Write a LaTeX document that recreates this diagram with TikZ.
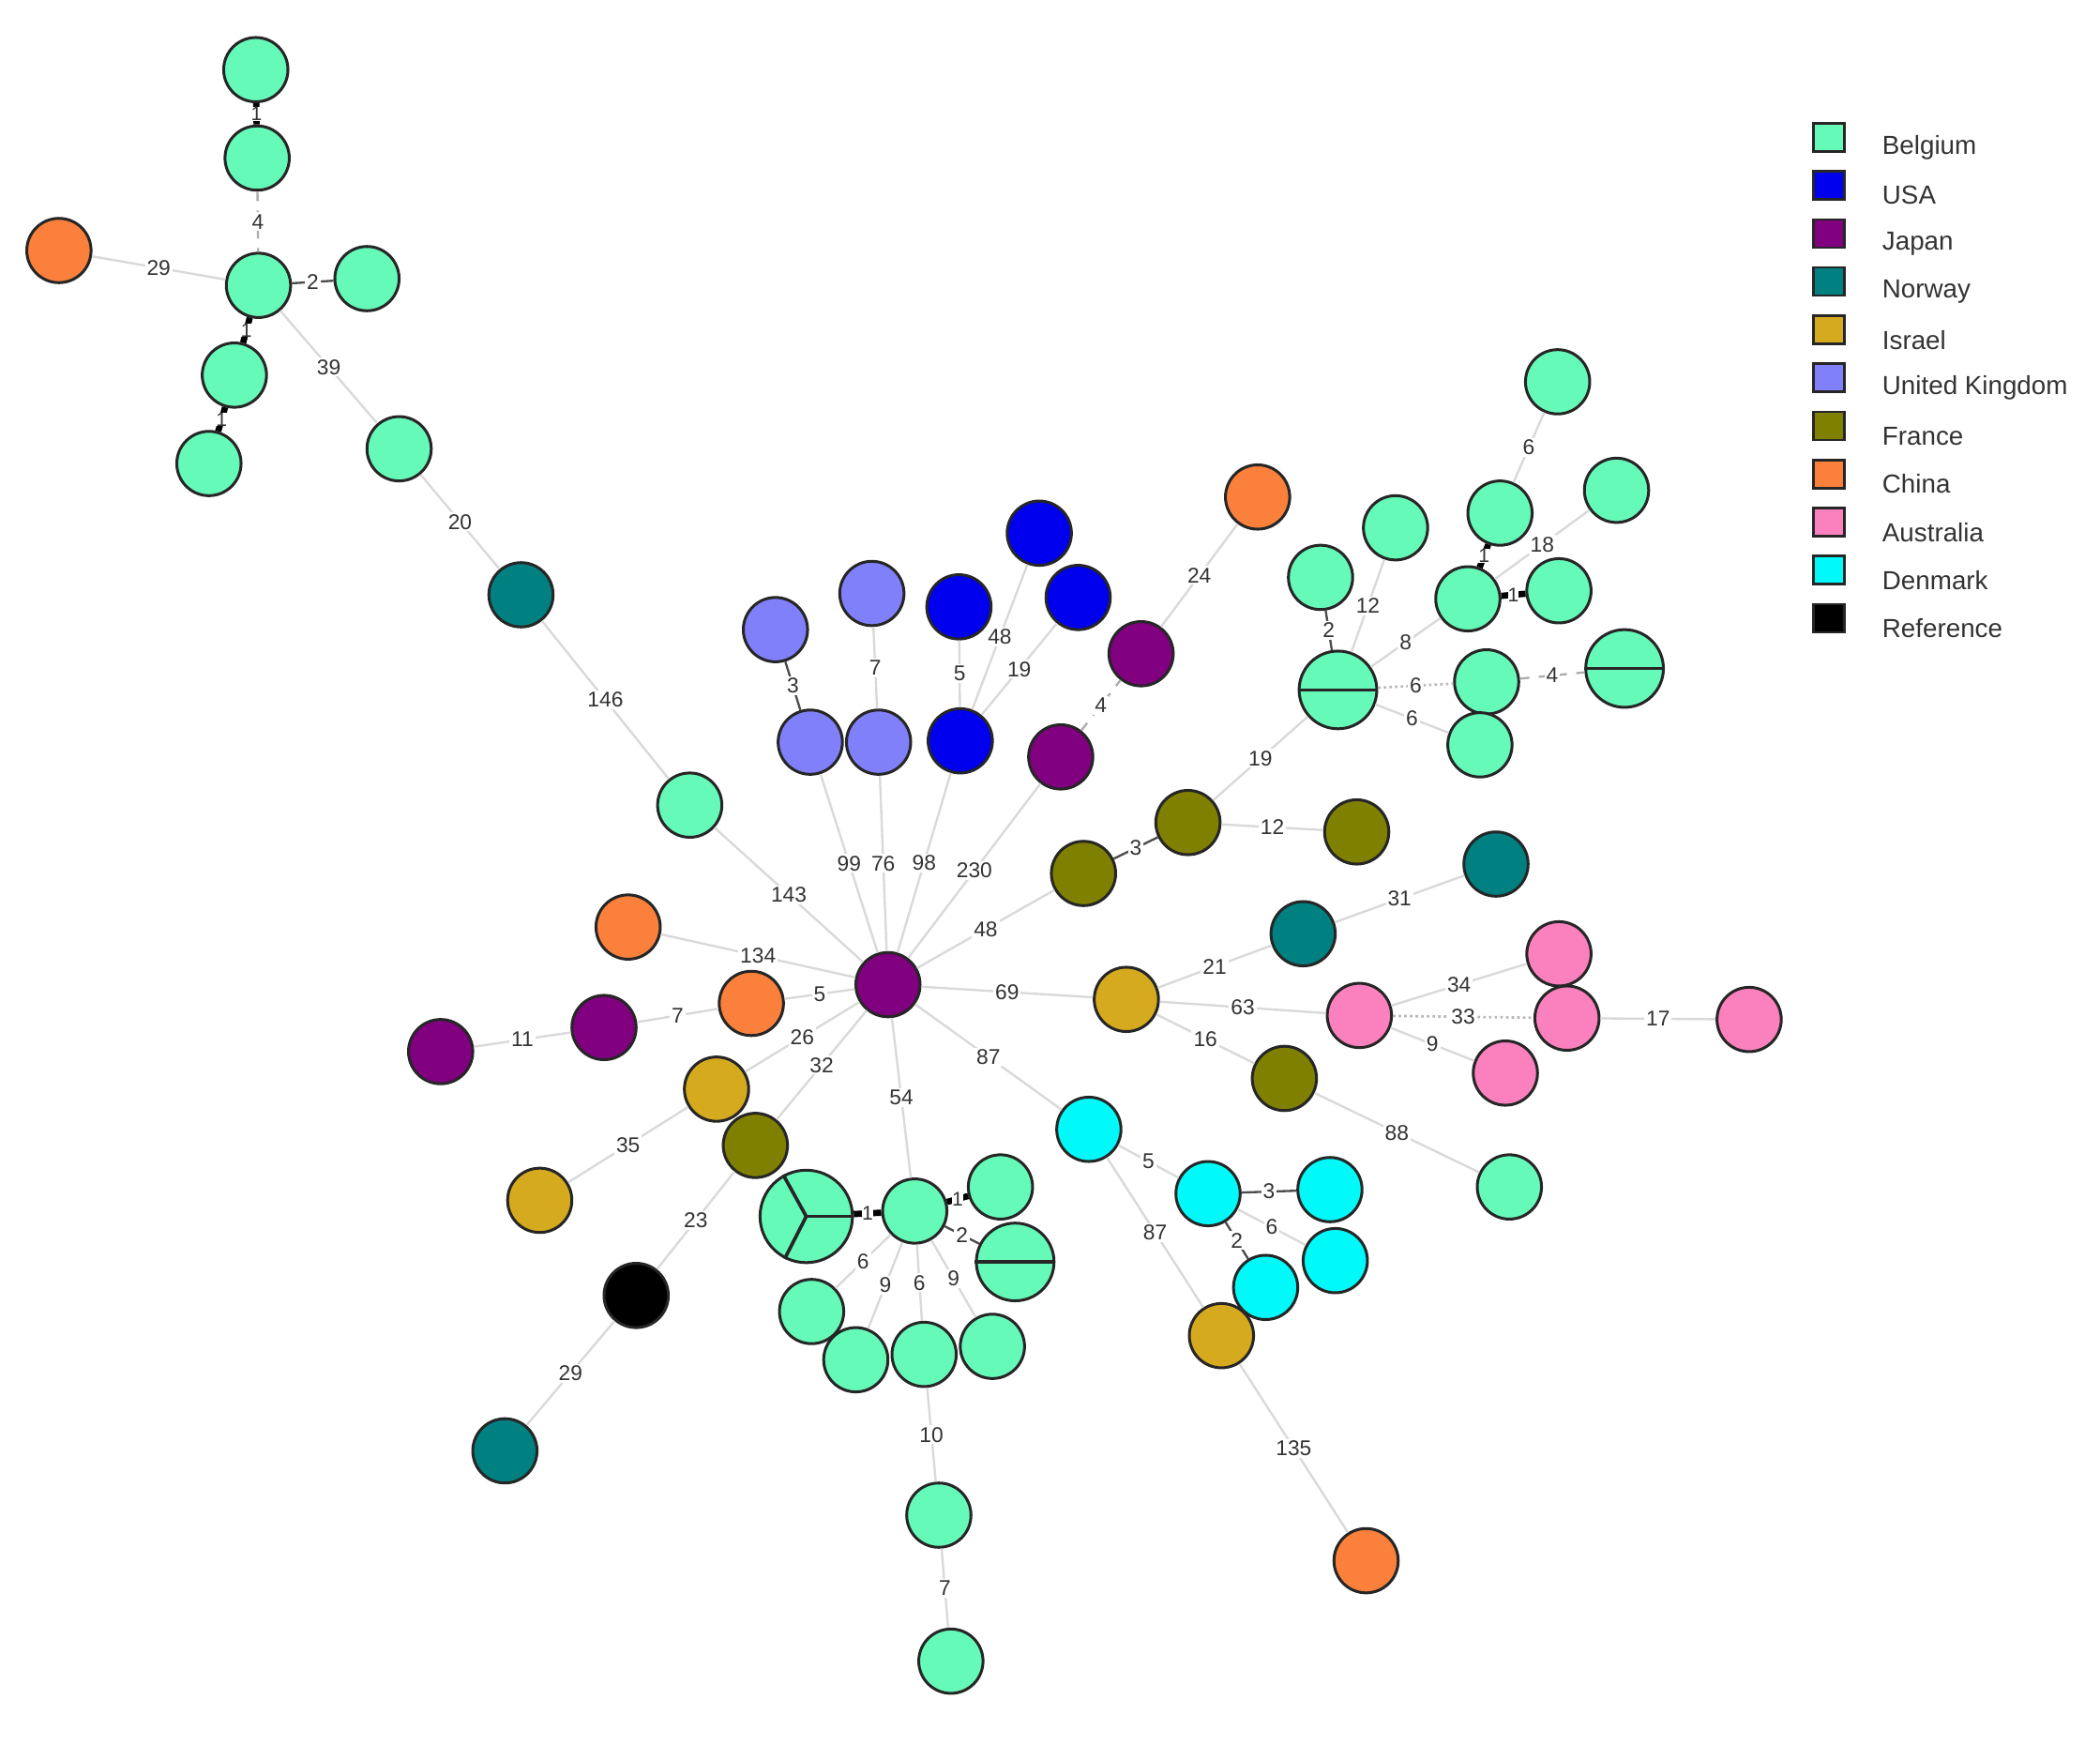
\documentclass[tikz,border=0pt]{standalone}
\usepackage{fontspec}
\setmainfont{Liberation Sans}
\definecolor{cBE}{RGB}{102,250,185}
\definecolor{cUS}{RGB}{0,0,238}
\definecolor{cJP}{RGB}{128,0,128}
\definecolor{cNO}{RGB}{0,128,128}
\definecolor{cIL}{RGB}{214,170,30}
\definecolor{cUK}{RGB}{128,128,250}
\definecolor{cFR}{RGB}{128,128,0}
\definecolor{cCN}{RGB}{250,128,60}
\definecolor{cAU}{RGB}{250,128,190}
\definecolor{cDK}{RGB}{0,250,250}
\definecolor{cRF}{RGB}{0,0,0}
\tikzset{
  st/.style={circle, draw=black!85, line width=0.9pt, minimum size=0.72cm, inner sep=0pt},
  be/.style={st, fill=cBE}, us/.style={st, fill=cUS}, jp/.style={st, fill=cJP},
  no/.style={st, fill=cNO}, il/.style={st, fill=cIL}, uk/.style={st, fill=cUK},
  fr/.style={st, fill=cFR}, cn/.style={st, fill=cCN}, au/.style={st, fill=cAU},
  dk/.style={st, fill=cDK}, rf/.style={st, fill=cRF},
  bignode/.style={minimum size=0.87cm},
  hugenode/.style={minimum size=1.035cm},
  split/.style={draw=black!85, line width=1.1pt},
  e/.style={draw=black!15, line width=0.7pt},
  eone/.style={draw=black, line width=2pt},
  etwo/.style={draw=black!70, line width=0.7pt},
  efour/.style={draw=black!32, line width=0.7pt, dashed},
  edot/.style={draw=black!28, line width=0.8pt, densely dotted},
  lab/.style={fill=white, inner sep=0.6pt, font=\fontsize{6.8}{7}\selectfont, text=black!80},
  labk/.style={fill=white, inner sep=0pt, font=\fontsize{6.3}{7}\selectfont, text=black!80},
  legsq/.style={draw=black!85, line width=0.8pt, minimum width=0.345cm, minimum height=0.315cm, inner sep=0pt},
  legtxt/.style={anchor=west, inner sep=0pt, font=\fontsize{8.3}{10}\selectfont, text=black!80}
}
\begin{document}
\begin{tikzpicture}[x=0.015cm, y=-0.015cm]
\path[fill=white, use as bounding box] (0,0) rectangle (1568,1302);

% ---- nodes: top-left cluster
\node[be] (tl1) at (191,52) {};
\node[be] (tl2) at (192,118) {};
\node[be] (tl3) at (193,213) {};
\node[be] (tl4) at (274,208) {};
\node[cn] (tlc) at (44,187) {};
\node[be] (tl5) at (175,280) {};
\node[be] (tl6) at (156,346) {};
\node[be] (tl7) at (298,335) {};
\node[no] (no1) at (389,444) {};
\node[be] (b146) at (515,601) {};
% hub
\node[jp] (J0) at (663,735) {};
% UK
\node[uk] (uk1) at (579,470) {};
\node[uk] (uk2) at (651,443) {};
\node[uk] (uk3) at (605,554) {};
\node[uk] (uk4) at (656,554) {};
% USA
\node[us] (us1) at (776,398) {};
\node[us] (us2) at (716,453) {};
\node[us] (us3) at (805,446) {};
\node[us] (us4) at (717,553) {};
% Japan / China
\node[jp] (jp2) at (792,565) {};
\node[jp] (jp3) at (852,488) {};
\node[cn] (ch2) at (939,371) {};
% France
\node[fr] (fr1) at (809,652) {};
\node[fr] (fr2) at (887,614) {};
\node[fr] (fr3) at (1013,621) {};
% Belgium right cluster
\node[be, bignode] (bR0) at (999,515) {};
\node[be] (bR1) at (986,431) {};
\node[be] (bR2) at (1042,394) {};
\node[be] (bR3) at (1096,447) {};
\node[be] (bR4) at (1120,383) {};
\node[be] (bR5) at (1163,285) {};
\node[be] (bR6) at (1207,366) {};
\node[be] (bR7) at (1164,441) {};
\node[be] (bR8) at (1110,509) {};
\node[be, bignode] (bR9) at (1213,499) {};
\node[be] (bR10) at (1105,556) {};
% Israel / Norway / Australia
\node[il] (is1) at (841,746) {};
\node[no] (no2) at (973,697) {};
\node[no] (no3) at (1117,645) {};
\node[au] (au1) at (1015,758) {};
\node[au] (au2) at (1164,712) {};
\node[au] (au3) at (1170,760) {};
\node[au] (au4) at (1306,761) {};
\node[au] (au5) at (1124,801) {};
\node[fr] (fr4) at (959,805) {};
\node[be] (bE) at (1127,886) {};
% Denmark
\node[dk] (dk1) at (813,843) {};
\node[dk] (dk2) at (902,891) {};
\node[dk] (dk3) at (993,888) {};
\node[dk] (dk4) at (997,941) {};
\node[dk] (dk5) at (945,961) {};
\node[il] (is2) at (912,997) {};
\node[cn] (ch3) at (1020,1165) {};
% left side
\node[cn] (ch4) at (469,692) {};
\node[cn] (ch5) at (561,749) {};
\node[jp] (jp4) at (451,767) {};
\node[jp] (jp5) at (329,785) {};
\node[il] (is3) at (535,813) {};
\node[fr] (fr5) at (564,855) {};
\node[il] (is4) at (403,896) {};
\node[rf] (ref) at (475,967) {};
\node[no] (no4) at (377,1083) {};
% bottom Belgium cluster
\node[be] (bB0) at (683,904) {};
\node[be, hugenode] (bB1) at (602,908) {};
\node[be] (bB2) at (747,886) {};
\node[be, bignode] (bB3) at (758,942) {};
\node[be] (bB4) at (606,979) {};
\node[be] (bB5) at (639,1015) {};
\node[be] (bB6) at (690,1011) {};
\node[be] (bB7) at (741,1005) {};
\node[be] (bB8) at (701,1131) {};
\node[be] (bB9) at (710,1240) {};

% split lines in multi-isolate nodes
\draw[split] (bR0.west) -- (bR0.east);
\draw[split] (bR9.west) -- (bR9.east);
\draw[split] (bB3.west) -- (bB3.east);
\draw[split] (bB1.center) -- (bB1.east);
\draw[split] (bB1.center) -- (bB1.119);
\draw[split] (bB1.center) -- (bB1.243);

% ---- edges
\draw[eone] (tl1) -- node[labk]{1} (tl2);
\draw[efour] (tl2) -- node[lab]{4} (tl3);
\draw[e] (tlc) -- node[lab]{29} (tl3);
\draw[etwo] (tl3) -- node[lab]{2} (tl4);
\draw[eone] (tl3) -- node[labk]{1} (tl5);
\draw[eone] (tl5) -- node[labk]{1} (tl6);
\draw[e] (tl3) -- node[lab]{39} (tl7);
\draw[e] (tl7) -- node[lab]{20} (no1);
\draw[e] (no1) -- node[lab]{146} (b146);
\draw[e] (b146) -- node[lab]{143} (J0);
\draw[etwo] (uk1) -- node[lab]{3} (uk3);
\draw[e] (uk2) -- node[lab]{7} (uk4);
\draw[e] (uk3) -- node[lab]{99} (J0);
\draw[e] (uk4) -- node[lab]{76} (J0);
\draw[e] (us2) -- node[lab]{5} (us4);
\draw[e] (us1) -- node[lab]{48} (us4);
\draw[e] (us3) -- node[lab]{19} (us4);
\draw[e] (us4) -- node[lab]{98} (J0);
\draw[efour] (jp2) -- node[lab]{4} (jp3);
\draw[e] (jp3) -- node[lab]{24} (ch2);
\draw[e] (J0) -- node[lab]{230} (jp2);
\draw[e] (J0) -- node[lab]{48} (fr1);
\draw[etwo] (fr1) -- node[lab]{3} (fr2);
\draw[e] (fr2) -- node[lab]{12} (fr3);
\draw[e] (fr2) -- node[lab]{19} (bR0);
\draw[etwo] (bR0) -- node[lab]{2} (bR1);
\draw[e] (bR0) -- node[lab]{12} (bR2);
\draw[e] (bR0) -- node[lab]{8} (bR3);
\draw[eone] (bR3) -- node[labk]{1} (bR4);
\draw[e] (bR4) -- node[lab]{6} (bR5);
\draw[e] (bR3) -- node[lab]{18} (bR6);
\draw[eone] (bR3) -- node[labk]{1} (bR7);
\draw[edot] (bR0) -- node[lab]{6} (bR8);
\draw[efour] (bR8) -- node[lab]{4} (bR9);
\draw[e] (bR0) -- node[lab]{6} (bR10);
\draw[e] (J0) -- node[lab]{69} (is1);
\draw[e] (is1) -- node[lab]{21} (no2);
\draw[e] (no2) -- node[lab]{31} (no3);
\draw[e] (is1) -- node[lab]{63} (au1);
\draw[e] (au1) -- node[lab]{34} (au2);
\draw[edot] (au1) -- node[lab]{33} (au3);
\draw[e] (au3) -- node[lab]{17} (au4);
\draw[e] (au1) -- node[lab]{9} (au5);
\draw[e] (is1) -- node[lab]{16} (fr4);
\draw[e] (fr4) -- node[lab]{88} (bE);
\draw[e] (J0) -- node[lab]{87} (dk1);
\draw[e] (dk1) -- node[lab]{5} (dk2);
\draw[etwo] (dk2) -- node[lab]{3} (dk3);
\draw[e] (dk2) -- node[lab]{6} (dk4);
\draw[etwo] (dk2) -- node[lab]{2} (dk5);
\draw[e] (dk1) -- node[lab]{87} (is2);
\draw[e] (is2) -- node[lab]{135} (ch3);
\draw[e] (ch4) -- node[lab]{134} (J0);
\draw[e] (ch5) -- node[lab]{5} (J0);
\draw[e] (jp4) -- node[lab]{7} (ch5);
\draw[e] (jp5) -- node[lab]{11} (jp4);
\draw[e] (J0) -- node[lab]{26} (is3);
\draw[e] (J0) -- node[lab]{32} (fr5);
\draw[e] (is3) -- node[lab]{35} (is4);
\draw[e] (fr5) -- node[lab]{23} (ref);
\draw[e] (ref) -- node[lab]{29} (no4);
\draw[e] (J0) -- node[lab]{54} (bB0);
\draw[eone] (bB0) -- node[labk]{1} (bB1);
\draw[eone] (bB0) -- node[labk]{1} (bB2);
\draw[etwo] (bB0) -- node[lab]{2} (bB3);
\draw[e] (bB0) -- node[lab]{6} (bB4);
\draw[e] (bB0) -- node[lab]{9} (bB5);
\draw[e] (bB0) -- node[lab]{6} (bB6);
\draw[e] (bB0) -- node[lab]{9} (bB7);
\draw[e] (bB6) -- node[lab]{10} (bB8);
\draw[e] (bB8) -- node[lab]{7} (bB9);

% ---- legend
\node[legsq, fill=cBE] (lq1) at (1365.5,102.5) {};
\node[legsq, fill=cUS] (lq2) at (1365.5,138.4) {};
\node[legsq, fill=cJP] (lq3) at (1365.5,174.3) {};
\node[legsq, fill=cNO] (lq4) at (1365.5,210.2) {};
\node[legsq, fill=cIL] (lq5) at (1365.5,246.1) {};
\node[legsq, fill=cUK] (lq6) at (1365.5,282.0) {};
\node[legsq, fill=cFR] (lq7) at (1365.5,317.9) {};
\node[legsq, fill=cCN] (lq8) at (1365.5,353.8) {};
\node[legsq, fill=cAU] (lq9) at (1365.5,389.7) {};
\node[legsq, fill=cDK] (lq10) at (1365.5,425.6) {};
\node[legsq, fill=cRF] (lq11) at (1365.5,461.5) {};
\node[legtxt] (lt1) at (1405,110.0) {Belgium};
\node[legtxt] (lt2) at (1405,145.9) {USA};
\node[legtxt] (lt3) at (1405,181.8) {Japan};
\node[legtxt] (lt4) at (1405,217.7) {Norway};
\node[legtxt] (lt5) at (1405,253.6) {Israel};
\node[legtxt] (lt6) at (1405,289.5) {United Kingdom};
\node[legtxt] (lt7) at (1405,325.4) {France};
\node[legtxt] (lt8) at (1405,361.3) {China};
\node[legtxt] (lt9) at (1405,397.2) {Australia};
\node[legtxt] (lt10) at (1405,433.1) {Denmark};
\node[legtxt] (lt11) at (1405,469.0) {Reference};
\end{tikzpicture}
\end{document}
